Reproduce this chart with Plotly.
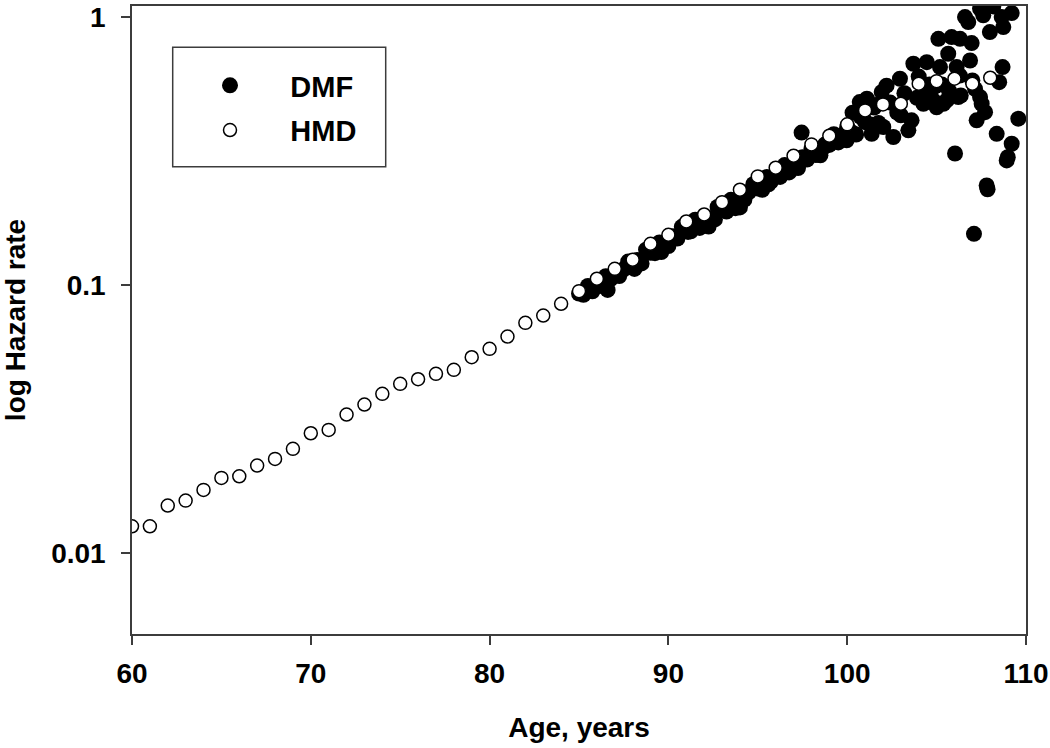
import plotly.graph_objects as go

# ---------------- data ----------------
hmd_age = [60, 61, 62, 63, 64, 65, 66, 67, 68, 69, 70, 71, 72, 73, 74, 75, 76, 77, 78, 79,
           80, 81, 82, 83, 84, 85, 86, 87, 88, 89, 90, 91, 92, 93, 94, 95, 96, 97, 98, 99,
           100, 101, 102, 103, 104, 105, 106, 107, 108]
hmd_rate = [0.01261, 0.01261, 0.01507, 0.01573, 0.01724, 0.01911, 0.01938, 0.02125, 0.02250, 0.02452,
            0.02804, 0.02886, 0.03293, 0.03588, 0.03934, 0.04286, 0.04460, 0.04671, 0.04834, 0.05387,
            0.05790, 0.06435, 0.07239, 0.07707, 0.08524, 0.0950, 0.1057, 0.1151, 0.1244, 0.1427,
            0.1542, 0.1729, 0.1836, 0.2040, 0.2270, 0.2545, 0.2743, 0.3040, 0.335, 0.361,
            0.398, 0.4487, 0.4725, 0.4753, 0.5643, 0.577, 0.589, 0.5643, 0.594]

dmf_age = [85.0, 85.25, 85.5, 85.75, 86.0, 86.25, 86.5, 86.75, 87.0, 87.25, 87.5, 87.75,
           88.0, 88.25, 88.5, 88.75, 89.0, 89.25, 89.5, 89.75, 90.0, 90.25, 90.5, 90.75,
           91.0, 91.25, 91.5, 91.75, 92.0, 92.25, 92.5, 92.75, 93.0, 93.25, 93.5, 93.75,
           94.0, 94.25, 94.5, 94.75, 95.0, 95.25, 95.5, 95.75, 96.0, 96.25, 96.5, 96.75,
           97.0, 97.25, 97.5, 97.75, 98.0, 98.25, 98.5, 98.75, 99.0, 99.25, 99.5, 99.75,
           100.0, 100.25, 100.5, 100.75, 101.0, 101.25, 101.5, 101.75,
           97.45, 99.97, 100.7, 101.1, 101.37, 101.93, 102.02, 102.2, 102.58, 102.95,
           103.2, 103.42, 103.6, 103.7, 104.0, 104.26, 104.45, 104.6, 104.82, 105.0,
           105.1, 105.19, 105.38, 105.56, 105.65, 105.84, 106.03, 106.12, 106.21, 106.3,
           106.31, 106.35, 106.59, 106.77, 106.87, 106.96, 107.0, 107.09, 107.15, 107.24,
           107.43, 107.43, 107.52, 107.61, 107.71, 107.8, 107.85, 107.98, 108.17, 108.36,
           108.5, 108.64, 108.69, 108.73, 108.92, 108.98, 109.2, 109.2, 109.57,
           100.3, 100.9, 101.6, 102.4, 102.8, 103.0, 103.9, 104.3, 104.9, 105.3, 105.7,
           86.6, 88.1, 89.6, 91.1, 92.6, 93.6, 95.6, 96.9, 98.6, 99.4]
dmf_rate = [0.0931, 0.0921, 0.0993, 0.0949, 0.1005, 0.0994, 0.1081, 0.1051, 0.1113, 0.1082, 0.1147, 0.1225,
            0.1181, 0.1241, 0.1206, 0.1357, 0.1320, 0.1317, 0.1444, 0.1404, 0.1400, 0.1522, 0.1493, 0.1651,
            0.1605, 0.1588, 0.1756, 0.1635, 0.1733, 0.1656, 0.1785, 0.1957, 0.1919, 0.1882, 0.2082, 0.1938,
            0.1950, 0.2085, 0.2227, 0.2380, 0.2295, 0.2269, 0.2532, 0.2440, 0.2563, 0.2535, 0.2805, 0.2634,
            0.2815, 0.2737, 0.3001, 0.2943, 0.3227, 0.3057, 0.3050, 0.3345, 0.3337, 0.3660, 0.3408, 0.3642,
            0.3892, 0.3720, 0.3648, 0.4247, 0.4059, 0.3980, 0.4597, 0.4030,
            0.371, 0.347, 0.482, 0.496, 0.367, 0.525, 0.389, 0.555, 0.357, 0.589,
            0.520, 0.378, 0.412, 0.670, 0.600, 0.475, 0.679, 0.560, 0.489, 0.461,
            0.830, 0.651, 0.475, 0.489, 0.730, 0.842, 0.310, 0.651, 0.503, 0.605,
            0.830, 0.510, 1.000, 0.958, 0.689, 0.800, 0.580, 0.1555, 0.540, 0.412,
            1.075, 0.503, 0.475, 1.015, 0.442, 0.2355, 0.228, 0.879, 1.096, 0.367,
            0.572, 1.000, 0.651, 0.918, 0.292, 0.300, 0.337, 1.035, 0.418,
            0.440, 0.420, 0.470, 0.480, 0.440, 0.430, 0.500, 0.530, 0.550, 0.560, 0.530,
            0.0960, 0.1150, 0.1330, 0.1580, 0.1760, 0.2020, 0.2380, 0.2780, 0.3220, 0.3450]

x_ticks = [60, 70, 80, 90, 100, 110]
y_ticks = [0.01, 0.1, 1]
y_tick_text = ["0.01", "0.1", "1"]

# ---------------- figure ----------------
FONT = "Liberation Sans, Arial, sans-serif"
AXC = "#3c3c3c"
NB = "\u00a0"

fig = go.Figure()
fig.add_trace(go.Scatter(
    x=dmf_age, y=dmf_rate, mode="markers", name=NB * 5 + "DMF", legendgroup="a",
    marker=dict(symbol="circle", size=16, color="black", line=dict(width=0)),
))
fig.add_trace(go.Scatter(
    x=hmd_age, y=hmd_rate, mode="markers", name=NB * 5 + "HMD", legendgroup="b",
    marker=dict(symbol="circle", size=13, color="white", line=dict(width=1.5, color="black")),
))

L, R, T, B = 132, 24, 6, 114
W, H = 1050, 748
pw, ph = W - L - R, H - T - B


def px2paper(px, py):
    return (px - L) / pw, (H - B - py) / ph


x0, y0 = px2paper(172.7, 47.3)
x1, y1 = px2paper(385.7, 166.7)
fig.add_shape(type="rect", xref="paper", yref="paper", x0=x0, x1=x1, y0=y1, y1=y0,
              line=dict(color=AXC, width=1.5), fillcolor="rgba(0,0,0,0)")

lx, ly = px2paper(210, 60)
fig.update_layout(
    width=W, height=H,
    margin=dict(l=L, r=R, t=T, b=B, pad=0),
    paper_bgcolor="white", plot_bgcolor="white",
    font=dict(family=FONT, size=28, color="black", weight="bold"),
    showlegend=True,
    legend=dict(x=lx, y=ly, xanchor="left", yanchor="top",
                bgcolor="rgba(0,0,0,0)", borderwidth=0,
                font=dict(family=FONT, size=29, color="black", weight="bold"),
                itemsizing="trace", tracegroupgap=4),
    xaxis=dict(range=[60, 110], tickvals=x_ticks, ticks="outside", ticklen=9, tickwidth=1.5,
               tickcolor=AXC, showline=True, linecolor=AXC, linewidth=1.5, mirror=True,
               showgrid=False, zeroline=False, ticklabelstandoff=5, automargin=False,
               tickfont=dict(family=FONT, size=28, weight="bold"),
               title=dict(text="Age, years", standoff=29,
                          font=dict(family=FONT, size=28, weight="bold"))),
    yaxis=dict(type="log", range=[-2.301, 0.0414], tickvals=y_ticks, ticktext=y_tick_text,
               ticks="outside", ticklen=9, tickwidth=1.5, tickcolor=AXC,
               showline=True, linecolor=AXC, linewidth=1.5, mirror=True,
               showgrid=False, zeroline=False, ticklabelstandoff=10, automargin=False,
               tickfont=dict(family=FONT, size=28, weight="bold"),
               title=dict(text="log Hazard rate", standoff=22,
                          font=dict(family=FONT, size=28, weight="bold"))),
)

fig.write_html("out.html", config={"displayModeBar": False},
               post_script="document.body.style.margin='0';")
